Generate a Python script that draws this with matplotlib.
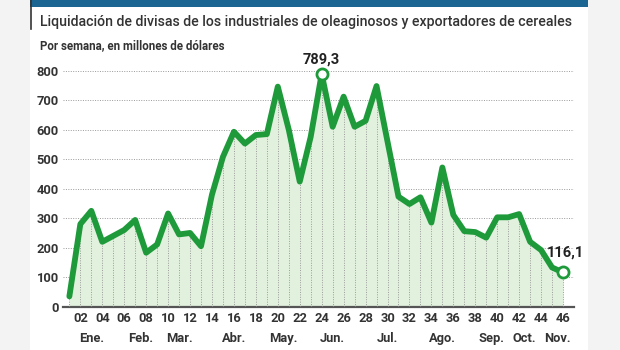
"""
Liquidación de divisas - agroexportadores, por semana
"""

import matplotlib.pyplot as plt
from matplotlib.patches import Rectangle
from matplotlib.lines import Line2D

# Datos: semana del año y monto liquidado (millones de dólares)
semanas = list(range(1, 47))
montos = [35, 280, 325, 220, 240, 260, 294, 183, 211, 316,
          245, 250, 205, 380, 508, 593, 553, 582, 585, 746,
          600, 424, 576, 789.3, 610, 712, 610, 630, 748, 560,
          373, 348, 371, 285, 472, 311, 256, 253, 234, 303,
          303, 314, 220, 192, 133, 116.1]
semanas_tick = list(range(2, 47, 2))
meses = ['Ene.', 'Feb.', 'Mar.', 'Abr.', 'May.', 'Jun.', 'Jul.',
         'Ago.', 'Sep.', 'Oct.', 'Nov.']
pos_meses = [3, 7.5, 11, 16, 20.5, 25, 30, 35, 39.5, 42.5, 45.5]

VERDE = '#1e9a3b'
RELLENO = '#e2f1dd'
TEXTO = '#333333'

plt.rcParams['font.family'] = ['Roboto', 'DejaVu Sans']

fig = plt.figure(figsize=(6.2, 3.5), dpi=100)
fig.patch.set_facecolor('#f3f3f3')

# Panel blanco y barra de encabezado
fig.add_artist(Rectangle((30 / 620, 0), 558 / 620, 1, transform=fig.transFigure,
                         facecolor='white', edgecolor='none', zorder=0))
fig.add_artist(Rectangle((30 / 620, 1 - 7 / 350), 558 / 620, 7 / 350,
                         transform=fig.transFigure, facecolor='#1b6592',
                         edgecolor='none', zorder=1))
fig.add_artist(Line2D([30.5 / 620, 30.5 / 620], [1, 1 - 29 / 350],
                      transform=fig.transFigure, color=TEXTO, lw=1.2))

fig.text(40 / 620, 1 - 22 / 350,
         'Liquidación de divisas de los industriales de oleaginosos y exportadores de cereales',
         fontsize=10.2, fontweight='medium', color=TEXTO, va='center', ha='left')
fig.text(40 / 620, 1 - 46 / 350, 'Por semana, en millones de dólares',
         fontsize=8.3, fontweight='bold', color=TEXTO, va='center', ha='left')

ax = fig.add_axes([63 / 620, 43.3 / 350, 511 / 620, 236 / 350])
ax.set_facecolor('none')

ax.set_xlim(0.42, 47.0)
ax.set_ylim(0, 800)

# Cuadrícula horizontal punteada
for y in range(100, 801, 100):
    ax.axhline(y, color='#9a9a9a', lw=0.7, ls=(0, (1, 1.5)), zorder=1)

# Relleno y líneas verticales bajo la curva
ax.fill_between(semanas, montos, 0, color=RELLENO, zorder=2, lw=0)
ax.vlines(semanas, 0, montos, colors='#9a9a9a', lw=0.7, linestyles=(0, (1, 1.5)), zorder=3)

ax.plot(semanas, montos, color=VERDE, lw=4.2, solid_joinstyle='round',
        solid_capstyle='round', zorder=4)

# Marcadores de máximo y último valor
i_max = montos.index(max(montos))
for i in (i_max, len(montos) - 1):
    ax.plot(semanas[i], montos[i], 'o', ms=8, mfc='white', mec=VERDE, mew=2,
            zorder=5, clip_on=False)

ax.annotate(f'{montos[i_max]:.1f}'.replace('.', ','), (semanas[i_max], montos[i_max]),
            xytext=(0, 5), textcoords='offset points', ha='center', va='bottom',
            fontsize=10.5, fontweight='bold', color='#222222', annotation_clip=False)
ax.annotate(f'{montos[-1]:.1f}'.replace('.', ','), (semanas[-1], montos[-1]),
            xytext=(2, 9), textcoords='offset points', ha='center', va='bottom',
            fontsize=10.5, fontweight='bold', color='#222222', annotation_clip=False)

for s in ('top', 'right', 'left'):
    ax.spines[s].set_visible(False)
ax.spines['bottom'].set_color('#555555')
ax.spines['bottom'].set_linewidth(1.6)

ax.set_yticks(range(0, 801, 100))
ax.tick_params(axis='y', length=0, pad=3, labelsize=9.3, labelcolor=TEXTO)
for lbl in ax.get_yticklabels():
    lbl.set_fontweight('bold')

ax.set_xticks(semanas_tick)
ax.set_xticklabels([f'{s:02d}' for s in semanas_tick])
ax.tick_params(axis='x', length=0, pad=4, labelsize=9.3, labelcolor=TEXTO)
for lbl in ax.get_xticklabels():
    lbl.set_fontweight('bold')

for m, p in zip(meses, pos_meses):
    ax.text(p, -0.135, m, transform=ax.get_xaxis_transform(), ha='center', va='center',
            fontsize=9.3, fontweight='bold', color=TEXTO)

fig.savefig('out.png', dpi=100)
